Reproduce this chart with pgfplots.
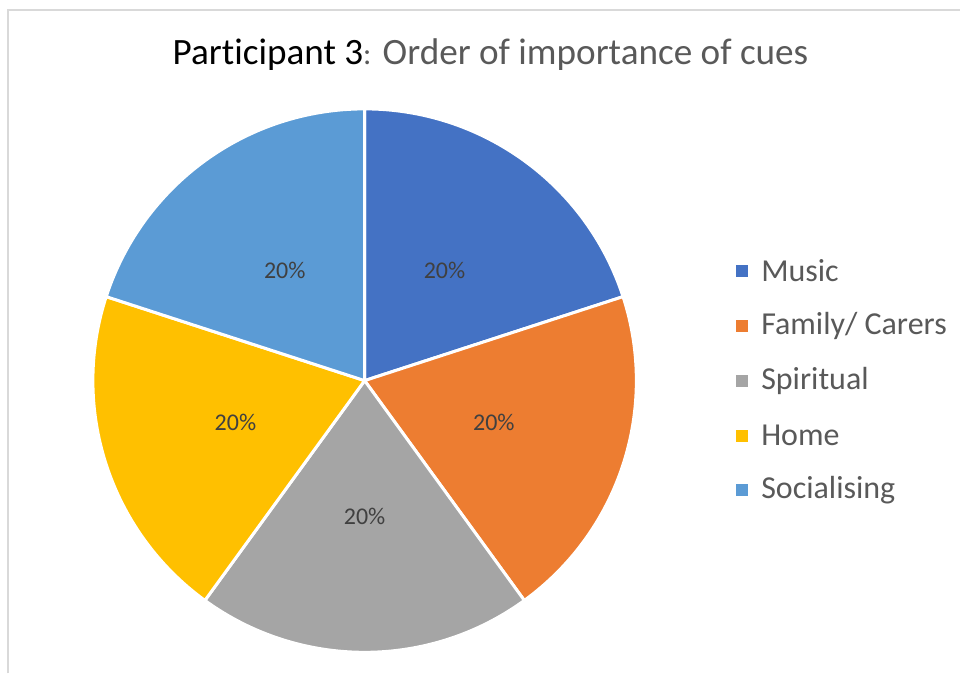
\documentclass[border=0pt]{standalone}
\usepackage{pgfplots}
\pgfplotsset{compat=1.18}
\usepackage{pgfplotstable}
\usepackage{fontspec}
\setmainfont{Carlito}[Ligatures=NoCommon]

\definecolor{cMusic}{HTML}{4472C4}
\definecolor{cFamily}{HTML}{ED7D31}
\definecolor{cSpiritual}{HTML}{A5A5A5}
\definecolor{cHome}{HTML}{FFC000}
\definecolor{cSocial}{HTML}{5B9BD5}
\definecolor{txtgray}{HTML}{595959}
\definecolor{lblgray}{HTML}{404040}
\definecolor{framegray}{HTML}{D9D9D9}

% share of each cue, in percent
\pgfplotstableread{
label value color
Music 20 cMusic
{Family/ Carers} 20 cFamily
Spiritual 20 cSpiritual
Home 20 cHome
Socialising 20 cSocial
}\piedata

\tikzset{
  pielabel/.style={font=\fontsize{12}{14}\selectfont, text=lblgray},
  legtext/.style={font=\fontsize{16}{19}\selectfont, text=txtgray, anchor=west},
}

\begin{document}
\begin{tikzpicture}
\begin{axis}[
  width=480.5pt, height=337pt, scale only axis,
  xmin=0, xmax=961, ymin=0, ymax=674,
  hide axis, clip=false,
]
\path (axis cs:0,0) rectangle (axis cs:961,674);
\draw[framegray, line width=1pt] (axis cs:8.5,0) -- (axis cs:8.5,663.5) -- (axis cs:961,663.5);

\node[font=\fontsize{18.6}{22}\selectfont] at (axis cs:491,619)
  {Participant 3\textcolor{txtgray}{\fontsize{15.5}{20}\selectfont:\fontsize{18.6}{22}\selectfont{} Order of importance of cues}};

\gdef\startang{90}
\pgfplotsforeachungrouped \i in {0,...,4}{
  \pgfplotstablegetelem{\i}{value}\of\piedata \let\val\pgfplotsretval
  \pgfplotstablegetelem{\i}{color}\of\piedata \let\col\pgfplotsretval
  \pgfplotstablegetelem{\i}{label}\of\piedata \let\lab\pgfplotsretval
  \pgfmathsetmacro\endang{\startang-3.6*\val}
  \pgfmathsetmacro\midang{(\startang+\endang)/2}
  \pgfmathsetmacro\legy{403-55*\i}
  \edef\cmd{%
    \noexpand\filldraw[fill=\col, draw=white, line width=1.5pt, line join=round]
      (axis cs:365,293) -- (axis cs:{365+272*cos(\startang)},{293+272*sin(\startang)})
      arc[start angle=\startang, end angle=\endang, radius=136pt] -- cycle;
    \noexpand\node[pielabel] at (axis cs:{365+136*cos(\midang)},{293+136*sin(\midang)}) {\val\noexpand\%};
    \noexpand\fill[\col] (axis cs:737,\legy-6) rectangle (axis cs:749,\legy+6);
    \noexpand\node[legtext] at (axis cs:755,\legy) {\lab};
  }%
  \cmd
  \global\let\startang\endang
}
\end{axis}
\end{tikzpicture}
\end{document}
